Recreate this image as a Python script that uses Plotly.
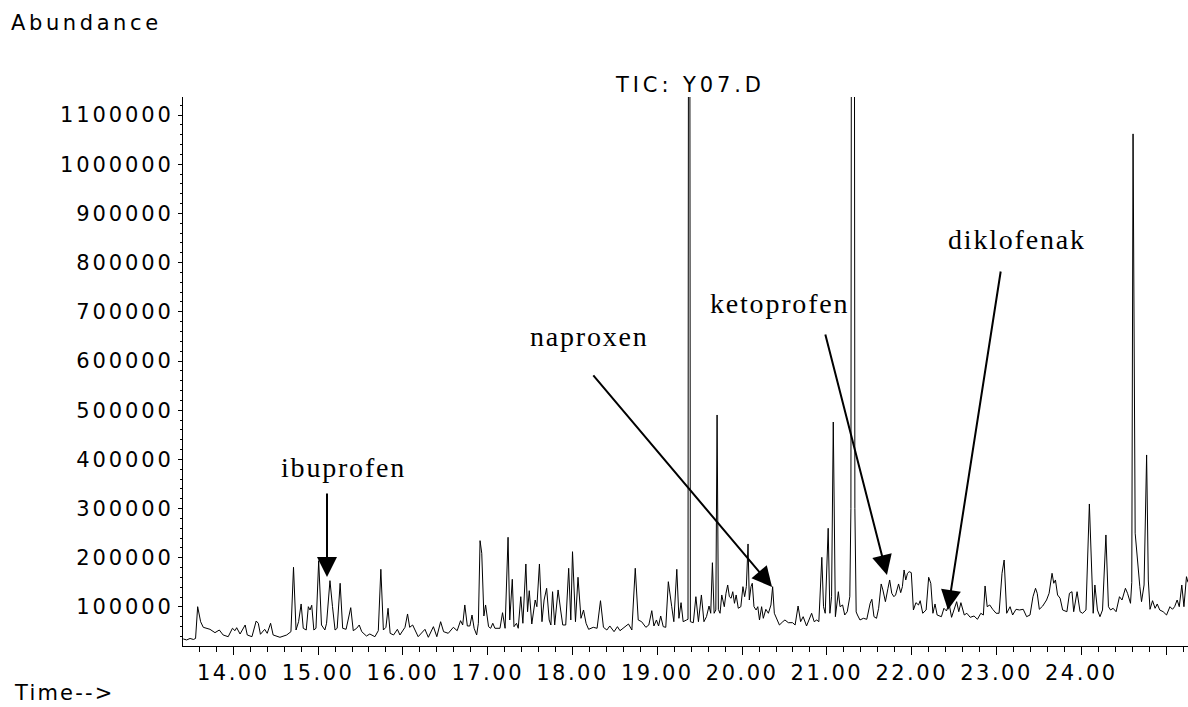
import plotly.graph_objects as go

# Retention time (min) and abundance
time_min = [
13.41,13.45,13.49,13.53,13.555,13.58,13.615,13.646,13.725,13.784,13.835,13.88,13.94,13.99,14.02,14.04,14.08,14.14,14.165,14.22,
14.27,14.295,14.32,14.37,14.40,14.44,14.47,14.55,14.63,14.68,14.71,14.74,14.77,14.80,14.825,14.86,14.885,14.905,14.925,14.95,
14.975,15.007,15.04,15.08,15.10,15.14,15.17,15.20,15.225,15.26,15.29,15.33,15.385,15.415,15.455,15.485,15.515,15.57,15.61,15.67,
15.71,15.74,15.77,15.80,15.825,15.85,15.89,15.935,15.965,16.025,16.055,16.08,16.115,16.14,16.18,16.26,16.30,16.36,16.40,16.445,
16.48,16.535,16.595,16.64,16.68,16.705,16.73,16.76,16.79,16.815,16.84,16.87,16.89,16.91,16.93,16.955,16.975,17.01,17.035,17.06,
17.085,17.145,17.175,17.205,17.24,17.26,17.29,17.31,17.34,17.36,17.39,17.415,17.45,17.47,17.49,17.52,17.56,17.58,17.61,17.64,
17.665,17.695,17.725,17.745,17.765,17.79,17.83,17.86,17.885,17.92,17.955,17.98,18.00,18.035,18.065,18.10,18.13,18.16,18.19,18.245,
18.29,18.33,18.365,18.405,18.44,18.49,18.53,18.56,18.61,18.66,18.70,18.74,18.775,18.815,18.865,18.90,18.935,18.96,18.99,19.015,
19.04,19.07,19.10,19.13,19.17,19.195,19.23,19.255,19.28,19.305,19.345,19.362,19.375,19.39,19.425,19.455,19.485,19.52,19.55,19.58,
19.61,19.63,19.65,19.67,19.69,19.705,19.72,19.74,19.76,19.79,19.81,19.83,19.85,19.87,19.89,19.91,19.93,19.955,19.985,20.01,
20.03,20.05,20.07,20.085,20.105,20.12,20.14,20.165,20.185,20.205,20.23,20.25,20.28,20.31,20.34,20.36,20.38,20.41,20.44,20.48,
20.505,20.545,20.595,20.625,20.66,20.69,20.72,20.76,20.79,20.82,20.85,20.88,20.905,20.94,20.96,20.98,21.015,21.035,21.055,21.075,
21.10,21.135,21.155,21.185,21.21,21.24,21.27,21.283,21.295,21.318,21.33,21.345,21.36,21.39,21.43,21.47,21.51,21.53,21.555,21.585,
21.61,21.64,21.66,21.69,21.72,21.74,21.765,21.79,21.81,21.845,21.87,21.89,21.91,21.93,21.95,21.97,21.995,22.02,22.05,22.08,
22.10,22.13,22.17,22.20,22.225,22.25,22.275,22.30,22.35,22.38,22.41,22.44,22.47,22.50,22.53,22.555,22.58,22.62,22.65,22.69,
22.735,22.775,22.815,22.845,22.865,22.89,22.92,22.955,22.995,23.03,23.065,23.09,23.12,23.16,23.19,23.23,23.27,23.315,23.355,23.395,
23.43,23.46,23.48,23.505,23.545,23.59,23.62,23.655,23.675,23.695,23.72,23.75,23.78,23.83,23.86,23.89,23.91,23.95,23.985,24.015,
24.055,24.095,24.12,24.14,24.16,24.19,24.22,24.25,24.29,24.32,24.345,24.375,24.41,24.45,24.48,24.52,24.545,24.58,24.595,24.61,
24.635,24.665,24.69,24.71,24.74,24.77,24.79,24.81,24.84,24.87,24.895,24.925,24.965,25.005,25.045,25.075,25.10,25.13,25.155,25.185,
25.21,25.24,25.258,
]
abundance = [
35000,33000,36000,34000,36000,100600,70000,58700,54600,47800,53200,43100,39600,56700,51800,57900,45100,63400,43100,39600,
71500,66900,44500,54600,46500,66900,43100,38400,43100,49800,180700,53200,70100,106100,56700,53200,100600,93900,103500,53200,
56700,194100,63400,53200,66900,153500,100600,53200,56700,148200,56700,54600,98600,51800,56700,63400,49800,41000,45100,39600,
51800,176600,53200,58700,97400,46500,43100,54600,43100,58700,85800,58700,63400,53200,39600,54600,38400,60000,39600,70100,
49800,46500,58700,51800,72200,63400,104100,61400,61400,83700,56700,43100,66900,234800,209200,81700,104100,60000,56700,66900,
56700,56700,88400,56700,241700,73600,156300,60000,66900,56700,120900,66900,187400,90400,133100,65400,114200,100600,187400,70100,
114200,138000,73600,63400,131100,63400,134600,93900,63400,63400,178700,73600,212400,70100,160400,77000,93900,66900,54600,58700,
56700,112800,58700,53200,61400,49800,60000,51800,58700,65400,53200,178700,73600,70100,58700,63400,92500,61400,73600,61400,
81700,60000,58700,151400,100600,70100,176600,77000,108800,70100,73600,75000,3000000,70100,68100,120900,70100,124400,70100,80300,
102000,87200,190000,87200,93900,490300,95000,87200,124400,100600,127800,144700,120900,117700,131100,107500,124400,97400,100600,141300,
120900,141300,228100,114200,141300,148200,100600,93900,100600,73600,100600,77000,95300,87200,104100,141300,87200,73600,63400,70100,
73600,68100,68100,63400,102000,70100,80300,61400,73600,87200,70100,73600,70100,201000,100600,87200,260000,87200,120900,476000,
80300,131100,100600,104100,83700,90400,120900,300000,2500000,2500000,300000,90000,83700,73600,77000,75000,107500,115600,80300,77000,
97400,146800,134600,110800,138000,154900,127800,120900,124400,146800,129100,141300,175200,154900,168500,171800,169800,93900,108800,104100,
112800,87200,93900,160400,148200,87200,106100,83700,80300,97400,91900,107500,79000,93900,110800,90400,108800,83700,87200,79000,
81700,75000,87200,83700,142700,100600,104100,95300,87200,87200,168500,195500,87200,100600,83700,95300,93900,95300,80300,83700,
120900,138000,127800,95300,102000,114200,127800,168500,148200,154900,124400,117700,93900,90400,127800,131100,90400,131100,90400,87200,
93900,309400,161600,87200,144700,93900,80300,93900,246400,100600,93900,97400,90400,120900,114200,138000,127800,107500,150000,1061600,
250000,182000,141300,110800,144700,409000,154900,95300,112800,97400,106100,93900,90400,83700,100600,95300,100600,114200,100600,144700,
100600,161600,150000,
]

x_tick_vals = [14, 15, 16, 17, 18, 19, 20, 21, 22, 23, 24, 25]
x_tick_text = ["14.00", "15.00", "16.00", "17.00", "18.00", "19.00", "20.00",
               "21.00", "22.00", "23.00", "24.00", ""]
y_tick_vals = [100000, 200000, 300000, 400000, 500000, 600000, 700000,
               800000, 900000, 1000000, 1100000]

# compound labels: (name, retention time, abundance at arrow tip)
compounds = ["ibuprofen", "naproxen", "ketoprofen", "diklofenak"]
compound_time = [15.105, 20.353, 21.708, 22.427]
compound_abund = [161000, 140700, 165000, 93900]

SANS = "DejaVu Sans, Verdana, sans-serif"
SERIF = "Liberation Serif, Times New Roman, serif"


def spaced(s, ls):
    return f'<span style="letter-spacing:{ls}px">{s}</span>'


fig = go.Figure()
fig.add_trace(go.Scatter(x=time_min, y=abundance, mode="lines",
                         line=dict(color="black", width=1), hoverinfo="skip",
                         showlegend=False))

fig.update_layout(
    width=1188, height=707,
    margin=dict(l=183, r=0, t=97, b=61),
    paper_bgcolor="white", plot_bgcolor="white",
    showlegend=False,
    xaxis=dict(range=[13.407, 25.258], showgrid=False, zeroline=False,
               showline=True, linecolor="black", linewidth=1,
               ticks="outside", ticklen=8, tickcolor="black", tickwidth=1,
               tickvals=x_tick_vals,
               ticktext=[spaced(t, 2.5) for t in x_tick_text],
               tickfont=dict(family=SANS, size=21, color="black"),
               minor=dict(ticks="outside", ticklen=5, dtick=0.2, tick0=14,
                          tickcolor="black", showgrid=False)),
    yaxis=dict(range=[20700, 1136600], showgrid=False, zeroline=False,
               showline=True, linecolor="black", linewidth=1,
               ticks="outside", ticklen=4, tickcolor="black", tickwidth=1,
               tickvals=y_tick_vals,
               ticktext=[spaced(str(v), 2.9) for v in y_tick_vals],
               tickfont=dict(family=SANS, size=21, color="black"),
               minor=dict(ticks="outside", ticklen=2, dtick=20000, tick0=0,
                          tickcolor="black", showgrid=False)),
)

ann = []
ann.append(dict(text=spaced("Abundance", 3.6), xref="paper", yref="paper",
                x=-0.1728, y=1.1348, xanchor="left", yanchor="middle",
                showarrow=False, font=dict(family=SANS, size=21, color="black")))
ann.append(dict(text=spaced("Time-->", 2.2), xref="paper", yref="paper",
                x=-0.1704, y=-0.111, xanchor="left", yanchor="bottom",
                showarrow=False, font=dict(family=SANS, size=21, color="black")))
ann.append(dict(text=spaced("TIC: Y07.D", 3.9), xref="paper", yref="paper",
                x=0.502, y=1.021, xanchor="center", yanchor="middle", xshift=2,
                showarrow=False, font=dict(family=SANS, size=21, color="black")))

label_pos = [(0.159, 0.326), (0.403, 0.563), (0.593, 0.623), (0.829, 0.741)]
arrow_off = [(0, -85), (-180, -213), (-62, -242), (53, -340)]
for name, t, a, (lx, ly), (ax, ay) in zip(compounds, compound_time, compound_abund,
                                          label_pos, arrow_off):
    ann.append(dict(text=spaced(name, 1.8), xref="paper", yref="paper",
                    x=lx, y=ly, xanchor="center", yanchor="middle", xshift=1,
                    showarrow=False, font=dict(family=SERIF, size=28, color="black")))
    ann.append(dict(text="", x=t, y=a, xref="x", yref="y", ax=ax, ay=ay,
                    showarrow=True, arrowhead=2, arrowsize=2, arrowwidth=2,
                    arrowcolor="black"))

fig.update_layout(annotations=ann)
fig.write_html("out.html")
